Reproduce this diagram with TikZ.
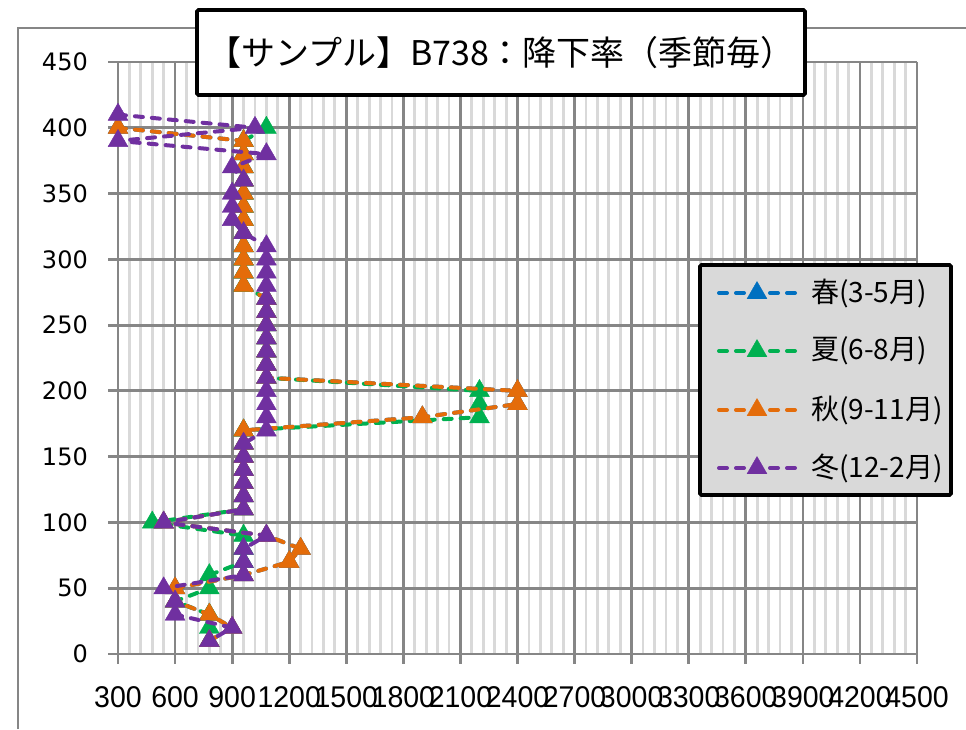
\documentclass[tikz,border=0pt]{standalone}
\usepackage{fontspec}
\usepackage{graphicx}
\usetikzlibrary{plotmarks}
\newfontfamily\jpfont{Noto Sans CJK JP}
\newfontfamily\yfont{DejaVu Sans}
\newfontfamily\xfont{Liberation Sans}
\definecolor{cSpring}{HTML}{0070C0}
\definecolor{cSummer}{HTML}{00B050}
\definecolor{cAutumn}{HTML}{E46C0A}
\definecolor{cWinter}{HTML}{7030A0}
\definecolor{gridmaj}{HTML}{868686}
\definecolor{gridmin}{HTML}{D9D9D9}
\definecolor{legfill}{HTML}{D9D9D9}
\tikzset{
  serie/.style={line width=4pt, dash pattern=on 8pt off 9pt, line cap=round, line join=round,
    draw=#1, mark=triangle*, mark size=11.5pt,
    mark options={solid, fill=#1, draw=#1, line width=0.4pt}},
  minorgrid/.style={draw=gridmin, line width=2.8pt},
  majorgrid/.style={draw=gridmaj, line width=2.8pt},
  xlab/.style={font=\xfont\fontsize{30}{32}\selectfont, inner sep=0pt},
  ylab/.style={font=\yfont\fontsize{24}{26}\selectfont, inner sep=0pt, anchor=east},
  frame/.style={draw=black, line width=3.6pt, rounded corners=1.5pt},
  legtext/.style={font=\jpfont\fontsize{28}{32}\selectfont, inner sep=0pt, anchor=west}
}
\begin{document}
\begin{tikzpicture}[x=1pt,y=-1pt]
\useasboundingbox (0,0) rectangle (966,729);
\fill[white] (0,0) rectangle (966,729);
\draw[gridmaj, line width=2pt] (18,729) -- (18,28) -- (966,28);
\begin{scope}[shift={(60.928,654)}, x=0.19024pt, y=1.3156pt]
  \foreach \v in {300,360,...,4500} \draw[minorgrid] (\v,0) -- (\v,450);
  \foreach \h in {0,50,...,450} {
    \draw[majorgrid] (300,\h) ++(-10pt,0pt) -- (4500,\h);
    \node[ylab, xshift=-30pt] at (300,\h) {\h};
  }
  \foreach \v in {300,600,...,4500} {
    \draw[majorgrid] (\v,450) -- (\v,0) -- ++(0pt,-10pt);
    \node[xlab, yshift=-43pt] at (\v,0) {\scalebox{0.95}[1]{\v}};
  }
  % spring (hidden under autumn)
  \draw[serie=cSpring] plot coordinates {(300,400) (960,390) (960,380) (960,370) (960,360) (960,350) (960,340) (960,330) (960,320) (960,310) (960,300) (960,290) (960,280) (1080,270) (1080,260) (1080,250) (1080,240) (1080,230) (1080,220) (1080,210) (2400,200) (2400,190) (1900,180) (960,170) (960,160) (960,150) (960,140) (960,130) (960,120) (960,110) (540,100) (1080,90) (1260,80) (1200,70) (960,60) (600,50) (600,40) (780,30) (900,20) (780,10)};
  % summer
  \draw[serie=cSummer] plot coordinates {(1080,400) (960,390) (960,380) (960,370) (960,360) (960,350) (960,340) (960,330) (960,320) (960,310) (960,300) (960,290) (960,280) (1080,270) (1080,260) (1080,250) (1080,240) (1080,230) (1080,220) (1080,210) (2200,200) (2200,190) (2200,180) (960,170) (960,160) (960,150) (960,140) (960,130) (960,120) (960,110) (480,100) (960,90) (960,80) (960,70) (780,60) (780,50) (600,40) (780,30) (780,20) (780,10)};
  % autumn
  \draw[serie=cAutumn] plot coordinates {(300,400) (960,390) (960,380) (960,370) (960,360) (960,350) (960,340) (960,330) (960,320) (960,310) (960,300) (960,290) (960,280) (1080,270) (1080,260) (1080,250) (1080,240) (1080,230) (1080,220) (1080,210) (2400,200) (2400,190) (1900,180) (960,170) (960,160) (960,150) (960,140) (960,130) (960,120) (960,110) (540,100) (1080,90) (1260,80) (1200,70) (960,60) (600,50) (600,40) (780,30) (900,20) (780,10)};
  % winter
  \draw[serie=cWinter] plot coordinates {(300,410) (1020,400) (300,390) (1080,380) (900,370) (960,360) (900,350) (900,340) (900,330) (960,320) (1080,310) (1080,300) (1080,290) (1080,280) (1080,270) (1080,260) (1080,250) (1080,240) (1080,230) (1080,220) (1080,210) (1080,200) (1080,190) (1080,180) (1080,170) (960,160) (960,150) (960,140) (960,130) (960,120) (960,110) (540,100) (1080,90) (960,80) (960,70) (960,60) (540,50) (600,40) (600,30) (900,20) (780,10)};
\end{scope}
% title
\draw[frame, fill=white] (197,10) rectangle (805,95);
\node[font=\jpfont\fontsize{34}{38}\selectfont, inner sep=0pt] (title) at (501,53) {【サンプル】B738：降下率（季節毎）};
% legend
\draw[frame, fill=legfill] (700,265) rectangle (951,495);
\foreach \c/\t/\yy in {cSpring/春(3-5月)/293, cSummer/夏(6-8月)/351, cAutumn/秋(9-11月)/410, cWinter/冬(12-2月)/468} {
  \draw[serie=\c, mark indices={2}] plot coordinates {(719,\yy) (757,\yy) (795,\yy)};
  \node[legtext] at (811,\yy) {\t};
}
\end{tikzpicture}
\end{document}
